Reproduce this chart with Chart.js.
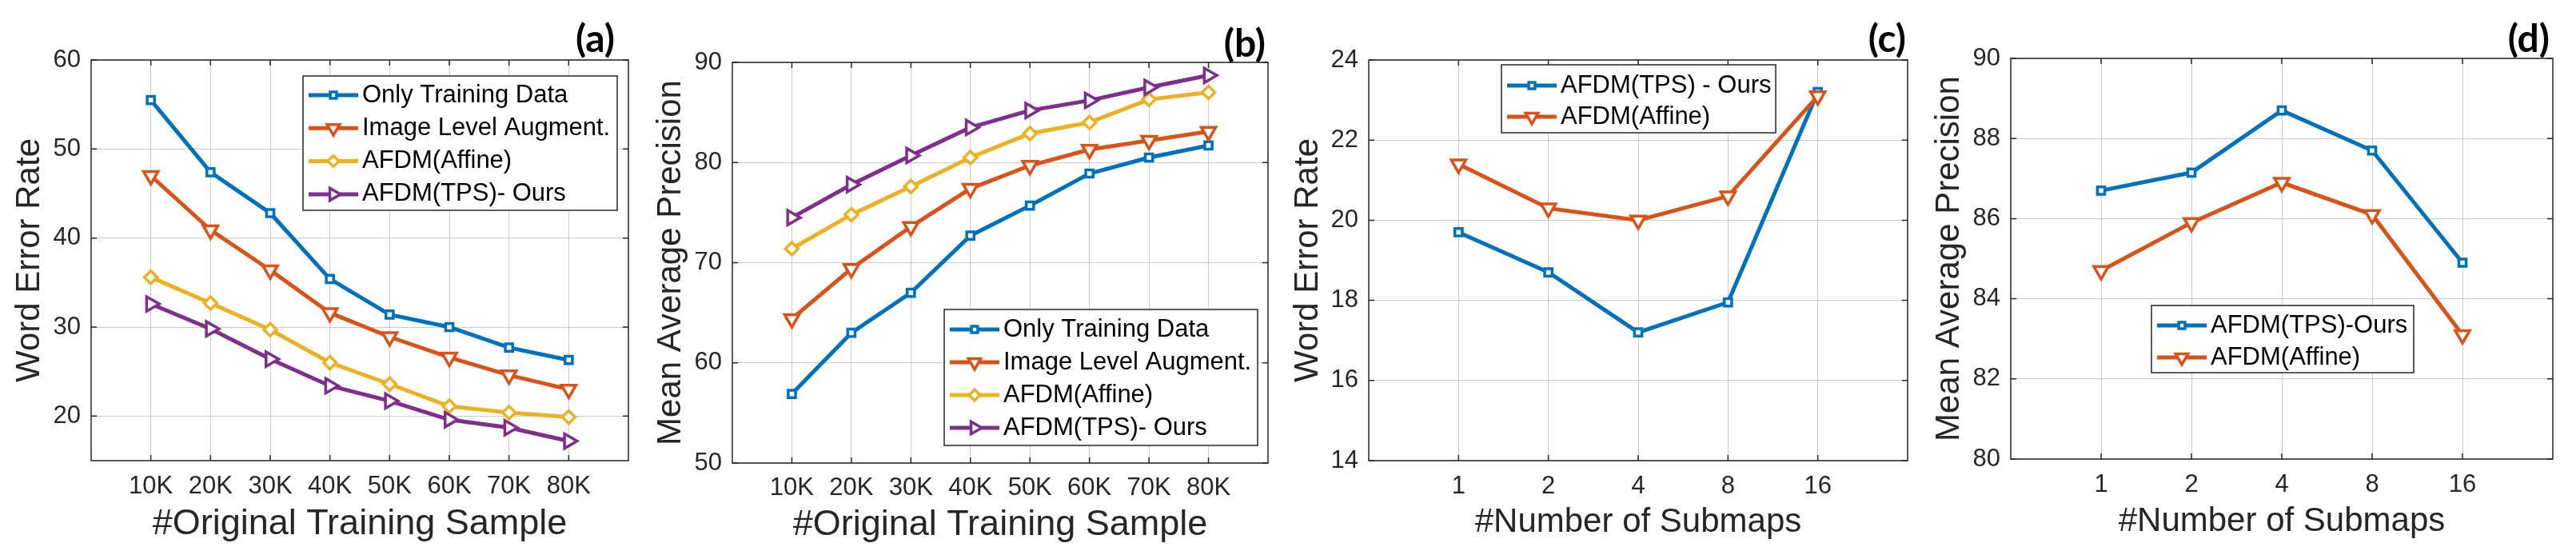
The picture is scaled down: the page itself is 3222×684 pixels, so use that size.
<!DOCTYPE html>
<html lang="en">
<head>
<meta charset="UTF-8">
<title>AFDM results</title>
<script src="https://cdn.jsdelivr.net/npm/chart.js"></script>
<style>
  body { margin: 0; background: #fff; width: 3222px; height: 684px; overflow: hidden; position: relative; }
  .panel { position: absolute; top: 0; height: 684px; }
</style>
</head>
<body>
<div class="panel" style="left:0px"><canvas id="chartA" width="800" height="684"></canvas></div>
<div class="panel" style="left:800px"><canvas id="chartB" width="800" height="684"></canvas></div>
<div class="panel" style="left:1600px"><canvas id="chartC" width="800" height="684"></canvas></div>
<div class="panel" style="left:2400px"><canvas id="chartD" width="822" height="684"></canvas></div>

<script>
// ---- data ----
const samples = ['10K', '20K', '30K', '40K', '50K', '60K', '70K', '80K'];
const submaps = ['1', '2', '4', '8', '16'];

// (a) word error rate vs training samples
const werOnly   = [55.5, 47.4, 42.8, 35.4, 31.4, 30.0, 27.7, 26.3];
const werImage  = [47.0, 40.9, 36.4, 31.6, 28.9, 26.6, 24.6, 23.0];
const werAffine = [35.6, 32.7, 29.7, 26.0, 23.6, 21.1, 20.4, 19.9];
const werTps    = [32.6, 29.8, 26.4, 23.4, 21.7, 19.6, 18.7, 17.2];

// (b) mean average precision vs training samples
const mapOnly   = [56.9, 63.0, 67.0, 72.7, 75.7, 78.9, 80.5, 81.7];
const mapImage  = [64.4, 69.4, 73.6, 77.4, 79.7, 81.3, 82.2, 83.1];
const mapAffine = [71.4, 74.8, 77.6, 80.5, 82.9, 84.0, 86.3, 87.0];
const mapTps    = [74.5, 77.8, 80.7, 83.5, 85.2, 86.2, 87.5, 88.7];

// (c) word error rate vs submaps
const werSubTps    = [19.7, 18.7, 17.2, 17.95, 23.2];
const werSubAffine = [21.4, 20.3, 20.0, 20.6, 23.1];

// (d) mean average precision vs submaps
const mapSubTps    = [86.7, 87.15, 88.7, 87.7, 84.9];
const mapSubAffine = [84.7, 85.9, 86.9, 86.1, 83.1];

// y tick labels
const yTicksA = [20, 30, 40, 50, 60];
const yTicksB = [50, 60, 70, 80, 90];
const yTicksC = [14, 16, 18, 20, 22, 24];
const yTicksD = [80, 82, 84, 86, 88, 90];

// ---- look ----
const FONT = '"Liberation Sans", Arial, Helvetica, sans-serif';
const INK = '#262626';

const blue   = { color: '#0072BD', pointStyle: 'rect', rotation: 0, radius: 6.5 };
const orange = { color: '#D95319', pointStyle: 'triangle', rotation: 180, radius: 10.5 };
const yellow = { color: '#EDB120', pointStyle: 'rectRot', rotation: 0, radius: 8 };
const purple = { color: '#7E2F8E', pointStyle: 'triangle', rotation: 90, radius: 10.5 };

// box + inward ticks like matlab
const matlabBox = {
  id: 'matlabBox',
  afterDatasetsDraw(chart) {
    const { ctx, chartArea: a } = chart;
    const x = chart.scales.x, y = chart.scales.y;
    ctx.save();
    ctx.strokeStyle = INK;
    ctx.lineWidth = 1.5;
    ctx.beginPath();
    x.ticks.forEach(t => {
      const px = x.getPixelForValue(t.value);
      ctx.moveTo(px, a.bottom); ctx.lineTo(px, a.bottom - 7);
      ctx.moveTo(px, a.top); ctx.lineTo(px, a.top + 7);
    });
    y.ticks.forEach(t => {
      const py = y.getPixelForValue(t.value);
      ctx.moveTo(a.left, py); ctx.lineTo(a.left + 7, py);
      ctx.moveTo(a.right, py); ctx.lineTo(a.right - 7, py);
    });
    ctx.stroke();
    ctx.strokeRect(a.left, a.top, a.right - a.left, a.bottom - a.top);
    ctx.restore();
  }
};

// legend drawn as a boxed panel inside the axes
const boxLegend = {
  id: 'boxLegend',
  afterDraw(chart, args, o) {
    const { ctx, chartArea: a } = chart;
    const left = a.left + o.x, top = a.top + o.y;
    ctx.save();
    ctx.fillStyle = '#fff';
    ctx.fillRect(left, top, o.w, o.h);
    ctx.strokeStyle = INK;
    ctx.lineWidth = 1.5;
    ctx.strokeRect(left, top, o.w, o.h);
    ctx.font = '31px ' + FONT;
    ctx.textBaseline = 'middle';
    chart.data.datasets.forEach((ds, i) => {
      const cy = top + o.first + i * o.step;
      ctx.strokeStyle = ds.borderColor;
      ctx.lineWidth = ds.borderWidth;
      ctx.beginPath();
      ctx.moveTo(left + 7, cy);
      ctx.lineTo(left + 69, cy);
      ctx.stroke();
      ctx.fillStyle = '#fff';
      ctx.lineWidth = ds.pointBorderWidth;
      if (Chart.helpers && Chart.helpers.drawPoint) {
        Chart.helpers.drawPoint(ctx, {
          pointStyle: ds.pointStyle, rotation: ds.pointRotation,
          radius: ds.pointRadius * 0.85, borderWidth: ds.pointBorderWidth
        }, left + 38, cy);
      }
      ctx.fillStyle = '#000';
      ctx.fillText(ds.label, left + 74, cy);
    });
    ctx.restore();
  }
};

// panel tag "(a)" etc.
const panelTag = {
  id: 'panelTag',
  afterDraw(chart, args, o) {
    const { ctx, chartArea: a } = chart;
    ctx.save();
    ctx.font = 'bold 48px Lato, "Open Sans", sans-serif';
    ctx.fillStyle = '#000';
    ctx.textAlign = 'right';
    ctx.textBaseline = 'middle';
    ctx.fillText(o.text, a.right + o.dx, o.y);
    ctx.restore();
  }
};

function makeChart(id, p) {
  const n = p.labels.length;
  const datasets = p.series.map((s, i) => ({
    label: s.label,
    data: s.values.map((v, k) => ({ x: k + 1, y: v })),
    borderColor: s.style.color,
    backgroundColor: s.style.color,
    borderWidth: 5,
    pointStyle: s.style.pointStyle,
    pointRotation: s.style.rotation,
    pointRadius: s.style.radius,
    pointBorderWidth: 3.5,
    pointBackgroundColor: '#fff',
    pointBorderColor: s.style.color,
    tension: 0,
    order: n + 10 - i
  }));

  return new Chart(document.getElementById(id), {
    type: 'line',
    data: { datasets },
    plugins: [matlabBox, boxLegend, panelTag],
    options: {
      responsive: false,
      animation: false,
      layout: { padding: p.padding },
      plugins: {
        legend: { display: false },
        tooltip: { enabled: false },
        boxLegend: p.legend,
        panelTag: p.tag
      },
      scales: {
        x: {
          type: 'linear',
          min: 0,
          max: n + 1,
          afterBuildTicks: scale => { scale.ticks = p.labels.map((_, k) => ({ value: k + 1 })); },
          afterFit: scale => { scale.height = p.xHeight; },
          ticks: {
            autoSkip: false, maxRotation: 0, padding: p.xTickPad,
            color: INK, font: { family: FONT, size: 31 },
            callback: v => p.labels[v - 1]
          },
          grid: { color: 'rgba(0,0,0,0.2)', lineWidth: 1, drawTicks: false },
          border: { display: false },
          title: {
            display: true, text: p.xTitle, color: INK,
            font: { family: FONT, size: p.xTitleSize },
            padding: { top: 0, bottom: p.xTitlePad }
          }
        },
        y: {
          min: p.yMin,
          max: p.yMax,
          afterBuildTicks: scale => { scale.ticks = p.yTicks.map(v => ({ value: v })); },
          afterFit: scale => { scale.width = p.yWidth; },
          ticks: { padding: 13, color: INK, font: { family: FONT, size: 31 } },
          grid: { color: 'rgba(0,0,0,0.2)', lineWidth: 1, drawTicks: false },
          border: { display: false },
          title: {
            display: true, text: p.yTitle, color: INK,
            font: { family: FONT, size: 42 },
            padding: { top: p.yTitlePad, bottom: 0 }
          }
        }
      }
    }
  });
}

const fourSeries = (only, image, affine, tps) => [
  { label: 'Only Training Data', values: only, style: blue },
  { label: 'Image Level Augment.', values: image, style: orange },
  { label: 'AFDM(Affine)', values: affine, style: yellow },
  { label: 'AFDM(TPS)- Ours', values: tps, style: purple }
];

makeChart('chartA', {
  labels: samples,
  series: fourSeries(werOnly, werImage, werAffine, werTps),
  yMin: 15, yMax: 60, yTicks: yTicksA,
  yTitle: 'Word Error Rate', yTitlePad: 12,
  xTitle: '#Original Training Sample', xTitleSize: 45, xTitlePad: 1, xTickPad: 14,
  padding: { left: 0, top: 75, right: 8, bottom: 0 }, yWidth: 114, xHeight: 108,
  legend: { x: 265, y: 20, w: 393, h: 168, first: 24, step: 41.3 },
  tag: { text: '(a)', dx: -17, y: 50 }
});

makeChart('chartB', {
  labels: samples,
  series: fourSeries(mapOnly, mapImage, mapAffine, mapTps),
  yMin: 50, yMax: 90, yTicks: yTicksB,
  yTitle: 'Mean Average Precision', yTitlePad: 14,
  xTitle: '#Original Training Sample', xTitleSize: 45, xTitlePad: 0, xTickPad: 13,
  padding: { left: 0, top: 78, right: 6, bottom: 0 }, yWidth: 116, xHeight: 105,
  legend: { x: 265, y: 309, w: 392, h: 170, first: 25, step: 41 },
  tag: { text: '(b)', dx: -3, y: 56 }
});

makeChart('chartC', {
  labels: submaps,
  series: [
    { label: 'AFDM(TPS) - Ours', values: werSubTps, style: blue },
    { label: 'AFDM(Affine)', values: werSubAffine, style: orange }
  ],
  yMin: 14, yMax: 24, yTicks: yTicksC,
  yTitle: 'Word Error Rate', yTitlePad: 11,
  xTitle: '#Number of Submaps', xTitleSize: 42, xTitlePad: 5, xTickPad: 14,
  padding: { left: 0, top: 75, right: 11, bottom: 0 }, yWidth: 112, xHeight: 108,
  legend: { x: 166, y: 6, w: 343, h: 85, first: 26, step: 39 },
  tag: { text: '(c)', dx: -2, y: 50 }
});

makeChart('chartD', {
  labels: submaps,
  series: [
    { label: 'AFDM(TPS)-Ours', values: mapSubTps, style: blue },
    { label: 'AFDM(Affine)', values: mapSubAffine, style: orange }
  ],
  yMin: 80, yMax: 90, yTicks: yTicksD,
  yTitle: 'Mean Average Precision', yTitlePad: 13,
  xTitle: '#Number of Submaps', xTitleSize: 42, xTitlePad: 6, xTickPad: 14,
  padding: { left: 0, top: 73, right: 29, bottom: 0 }, yWidth: 115, xHeight: 110,
  legend: { x: 176, y: 309, w: 328, h: 84, first: 25, step: 40 },
  tag: { text: '(d)', dx: -4, y: 50 }
});
</script>
</body>
</html>
